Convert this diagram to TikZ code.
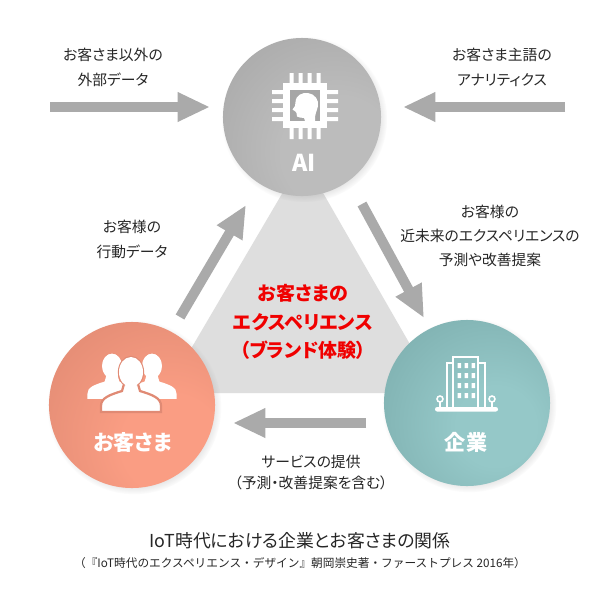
\documentclass[tikz,border=0pt]{standalone}
\usepackage{fontspec}
\setmainfont[RawFeature=+palt]{Noto Sans CJK JP}
\newfontfamily\fulljp{Noto Sans CJK JP}
\usetikzlibrary{arrows.meta,shadows}

\definecolor{arrowgray}{HTML}{AAAAAA}
\definecolor{trigray}{HTML}{DEDEDE}
\definecolor{txtgray}{HTML}{262626}
\definecolor{aidark}{HTML}{969696}
\definecolor{ailight}{HTML}{BCBCBC}
\definecolor{aimid}{HTML}{A6A6A6}
\definecolor{custdark}{HTML}{CC7B66}
\definecolor{custlight}{HTML}{FA9D83}
\definecolor{custmid}{HTML}{E08A74}
\definecolor{entdark}{HTML}{6A9A9A}
\definecolor{entlight}{HTML}{95C8C8}
\definecolor{expred}{HTML}{F00000}

\pgfdeclareradialshading{aiball}{\pgfpoint{14bp}{-14bp}}{color(0bp)=(ailight); color(18bp)=(ailight); color(68bp)=(aidark); color(100bp)=(aidark)}
\pgfdeclareradialshading{custball}{\pgfpoint{14bp}{-14bp}}{color(0bp)=(custlight); color(15bp)=(custlight); color(68bp)=(custdark); color(100bp)=(custdark)}
\pgfdeclareradialshading{entball}{\pgfpoint{10bp}{-8bp}}{color(0bp)=(entlight); color(12bp)=(entlight); color(62bp)=(entdark); color(100bp)=(entdark)}

\tikzset{
  bigarrow/.style={arrowgray, line width=7.1pt, -{Triangle[length=23pt,width=19.5pt]}},
  hub/.style={circle, minimum size=4.15cm, inner sep=0pt,
    circular drop shadow={shadow xshift=1.5pt, shadow yshift=-1.5pt, shadow scale=1.05, opacity=0.3}},
  note/.style={align=center, text=txtgray, font=\fontsize{10.5}{17.8}\selectfont},
  hubtext/.style={text=white, font=\fontsize{15}{18}\selectfont\bfseries},
  iconline/.style={white, line width=1.1pt},
  person/.pic={
    \path[fill=white, draw=#1, line width=1.6pt] (0,0) ellipse [x radius=12, y radius=15];
    \path[fill=white, draw=#1, line width=1.6pt] (-30,40) -- (-30,34) .. controls (-30,26) and (-22,23) .. (-9,19) -- (-7,12) -- (7,12) -- (9,19) .. controls (22,23) and (30,26) .. (30,34) -- (30,40) -- cycle;
    \fill[white] (0,0) ellipse [x radius=12, y radius=15];
  }
}

\begin{document}
\begin{tikzpicture}[x=0.025cm, y=-0.025cm]
    \fill[white] (0,0) rectangle (600,600);
    \useasboundingbox (0,0) rectangle (600,600);

    % experience triangle
    \fill[trigray] (303,158) -- (165,393) -- (438,393) -- cycle;

    \node[hub, minimum size=3.95cm, shading=aiball] (ai) at (302,117) {};
    \node[hub, shading=custball] (cust) at (132,405) {};
    \node[hub, shading=entball] (ent) at (467,403) {};

    % AI chip
    \fill[white] (283,83) rectangle (327,128);
    \fill[aimid] (290,90) rectangle (320,121);
    \fill[white] (289.5,73) rectangle ++(4,10) (298.5,73) rectangle ++(4,10) (307.5,73) rectangle ++(4,10) (316.5,73) rectangle ++(4,10);
    \fill[white] (289.5,128) rectangle ++(4,11) (298.5,128) rectangle ++(4,11) (307.5,128) rectangle ++(4,11) (316.5,128) rectangle ++(4,11);
    \fill[white] (272,90) rectangle ++(11,4) (272,99) rectangle ++(11,4) (272,108) rectangle ++(11,4) (272,117) rectangle ++(11,4);
    \fill[white] (327,90) rectangle ++(11,4) (327,99) rectangle ++(11,4) (327,108) rectangle ++(11,4) (327,117) rectangle ++(11,4);
    \fill[white] (305,121) -- (304,118) -- (300,117.5) -- (297,116.5) -- (296.5,113) -- (295.5,111.5) -- (292.5,109.5) -- (295,106) -- (295.5,102)
        .. controls (296,95) and (302,92.5) .. (308,93) .. controls (315,94) and (319,100) .. (318,106) .. controls (317,111) and (314.5,114) .. (315,121) -- cycle;

    % people
    \pic[scale=0.82] at (112,366) {person=none};
    \pic[scale=0.82] at (152,366) {person=none};
    \pic at (131,372) {person=custmid};

    % building
    \draw[iconline] (453,357) rectangle (478,408);
    \draw[iconline] (447,363) rectangle (453,408);
    \draw[iconline] (478,363) rectangle (485,408);
    \fill[white] (457.5,363) rectangle ++(3.5,5) (464.5,363) rectangle ++(3.5,5) (471.5,363) rectangle ++(3.5,5)
                 (457.5,373) rectangle ++(3.5,5) (464.5,373) rectangle ++(3.5,5) (471.5,373) rectangle ++(3.5,5)
                 (457.5,383) rectangle ++(3.5,5) (464.5,383) rectangle ++(3.5,5) (471.5,383) rectangle ++(3.5,5)
                 (457.5,393) rectangle ++(3.5,5) (464.5,393) rectangle ++(3.5,5) (471.5,393) rectangle ++(3.5,5);
    \fill[white, rounded corners=1.5pt] (435,407) rectangle (498,411.5);
    \draw[iconline] (440,399) circle [radius=3] (440,402) -- (440,407);
    \draw[iconline] (492,399) circle [radius=3] (492,402) -- (492,407);

    \node[hubtext, font=\fontsize{16.5}{18}\selectfont\bfseries] (ailbl) at (304,163) {AI};
    \node[hubtext] (custlbl) at (133,442) {お客さま};
    \node[hubtext] (entlbl) at (466,442) {企業};

    % flows
    \coordinate (extin) at (50,107);
    \coordinate (extout) at (210,107);
    \coordinate (anain) at (565,107);
    \coordinate (anaout) at (403,107);
    \coordinate (actin) at (180,317);
    \coordinate (actout) at (246,205);
    \coordinate (predin) at (362,204);
    \coordinate (predout) at (424,318);
    \coordinate (svcin) at (366,423);
    \coordinate (svcout) at (233,423);
    \draw[bigarrow] (extin) -- (extout);
    \draw[bigarrow] (anain) -- (anaout);
    \draw[bigarrow] (actin) -- (actout);
    \draw[bigarrow] (predin) -- (predout);
    \draw[bigarrow] (svcin) -- (svcout);

    \node[note] (extlbl) at (113,67.5) {お客さま以外の\\外部データ};
    \node[note] (analbl) at (502,67.5) {お客さま主語の\\アナリティクス};
    \node[note] (actlbl) at (132,239.5) {お客様の\\行動データ};
    \node[note, font=\fontsize{10.5}{17}\selectfont] (predlbl) at (490,236) {お客様の\\近未来のエクスペリエンスの\\予測や改善提案};
    \node[note, font=\fontsize{10.5}{15.4}\selectfont] (svclbl) at (311,472.5) {サービスの提供\\（予測・改善提案を含む）};
    \node[align=center, text=expred, font=\fontsize{13.5}{20.5}\selectfont\bfseries] (explbl) at (303,322) {お客さまの\\エクスペリエンス\\（ブランド体験）};

    \node[text=txtgray, font=\fontsize{12.7}{15}\selectfont] (title) at (300,541) {IoT時代における企業とお客さまの関係};
    \node[text=txtgray, font=\fulljp\fontsize{8.3}{10}\selectfont] (source) at (300,563) {（『IoT時代のエクスペリエンス・デザイン』朝岡崇史著・ファーストプレス 2016年）};
\end{tikzpicture}
\end{document}
